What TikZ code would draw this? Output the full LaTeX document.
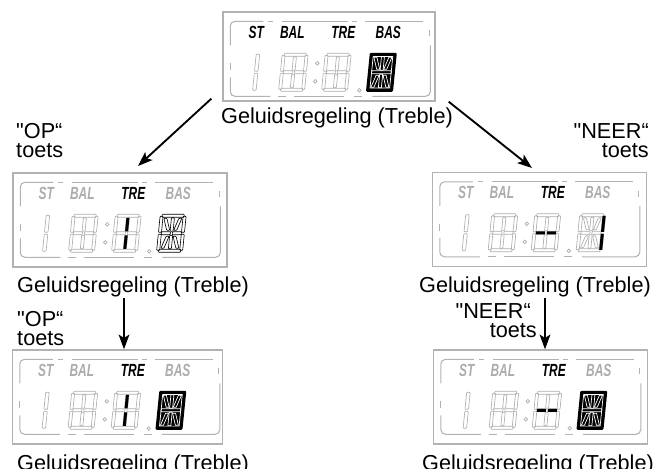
\documentclass[tikz,border=0pt]{standalone}
\usepackage{fontspec}
\usepackage{graphicx}
\setmainfont{Liberation Sans}[Ligatures=TeXOff]
\usetikzlibrary{arrows.meta}

\newcommand\capfont{\fontsize{18.5}{16}\selectfont}
\newcommand\lblfont{\fontsize{15}{15}\selectfont\bfseries\itshape}
\newcommand\lcdtxt[1]{\scalebox{0.68}[1]{#1}}

\tikzset{
  segline/.style={draw=gray!65, line width=0.55pt, rounded corners=0.6pt},
  lcdframe/.style={draw=gray!60, line width=0.9pt, rounded corners=4pt},
  lcdlbl/.style={font=\lblfont, inner sep=0pt, text=black},
  pics/one/.style={code={
    \draw[segline] (0,1) rectangle (3.5,18);
    \draw[segline] (0,20) rectangle (3.5,37);
  }},
  pics/cell/.style={code={
    \foreach \a/\b/\c/\d in {2/0/24/3, 2/35/24/38, 3/17.5/12/20.5, 14/17.5/23/20.5,
        0/2/3/18, 0/20/3/36, 23/2/26/18, 23/20/26/36, 11.5/3.5/14.5/17, 11.5/21/14.5/34.5}
      \draw[segline] (\a,\b) rectangle (\c,\d);
    \foreach \a/\b/\c/\d in {#1}
      \fill[black] (\a,\b) rectangle (\c,\d);
  }},
  pics/dcell/.style n args={2}{code={
    \foreach \a/\b/\c/\d in {2/0/24/3, 2/35/24/38, 3/17.5/12/20.5, 14/17.5/23/20.5,
        0/2/3/18, 0/20/3/36, 23/2/26/18, 23/20/26/36, 11.5/3.5/14.5/17, 11.5/21/14.5/34.5}
      \draw[segline, draw=#1] (\a,\b) rectangle (\c,\d);
    \foreach \a/\b/\c/\d/\e/\f/\g/\h in {4/4/7/4/11/16/8/16, 22/4/19/4/15/16/18/16,
        4/34/7/34/11/22/8/22, 22/34/19/34/15/22/18/22}
      \draw[segline, draw=#1] (\a,\b) -- (\c,\d) -- (\e,\f) -- (\g,\h) -- cycle;
    \foreach \a/\b/\c/\d in {#2}
      \fill[black] (\a,\b) rectangle (\c,\d);
  }},
  pics/dcellon/.style={code={
    \fill[black, rounded corners=1pt] (-0.5,-0.5) rectangle (26.5,38.5);
    \draw[white, line width=0.6pt] (3.2,3.2) rectangle (22.8,34.8);
    \draw[white, line width=0.6pt] (3.2,17.5) rectangle (22.8,20.5);
    \foreach \a/\b/\c/\d in {11.5/3.5/14.5/17, 11.5/21/14.5/34.5}
      \draw[white, line width=0.6pt] (\a,\b) rectangle (\c,\d);
    \foreach \a/\b/\c/\d/\e/\f/\g/\h in {4/4/7/4/11/16/8/16, 22/4/19/4/15/16/18/16,
        4/34/7/34/11/22/8/22, 22/34/19/34/15/22/18/22}
      \draw[white, line width=0.6pt] (\a,\b) -- (\c,\d) -- (\e,\f) -- (\g,\h) -- cycle;
  }},
}

% #1 panel node, #2 colour of the unlit labels, #3 lit segments of TRE digit, #4 last digit
\newcommand\lcdpanel[4]{%
  \begin{scope}[shift={(#1.north west)}]
    \draw[lcdframe] (8,34) -- (8,10) -- (41,10);
    \draw[lcdframe] (46,10) -- (51,10) (60,10) -- (126,10) (130,10) -- (135,10) (143,10) -- (201,10);
    \draw[lcdframe] (208,34) -- (208,85) -- (150,85);
    \draw[lcdframe] (140,85) -- (132,85) (122,85) -- (72,85) (64,85) -- (56,85);
    \draw[lcdframe] (48,85) -- (8,85) -- (8,66);
    \draw[lcdframe] (8,52) -- (8,59) (207,19) -- (207,25);
    \node[lcdlbl, text=#2] (#1st) at (34,21) {\lcdtxt{ST}};
    \node[lcdlbl, text=#2] (#1bal) at (70,21) {\lcdtxt{BAL}};
    \node[lcdlbl] (#1tre) at (121,21) {\lcdtxt{TRE}};
    \node[lcdlbl, text=#2] (#1bas) at (166,21) {\lcdtxt{BAS}};
    \pic[xslant=0.1] at (34,42) {one};
    \pic[xslant=0.1] at (60,42) {cell={0/0/0/0}};
    \pic[xslant=0.1] at (103,42) {cell={#3}};
    \pic[xslant=0.1] at (148,42) {#4};
    \draw[segline] (95,52) circle (1.8) (93,70) circle (1.8) (137,79) circle (1.8);
  \end{scope}}

\begin{document}
\begin{tikzpicture}[x=0.03cm, y=-0.03cm,
  lcd/.style={rectangle, draw=gray!60, line width=1.2pt, minimum width=6.42cm, minimum height=2.82cm, inner sep=0pt},
  captxt/.style={font=\capfont, anchor=base, inner sep=0pt},
  key/.style={font=\capfont, inner sep=0pt},
  arrow/.style={-{Stealth[length=4.4mm, width=3.2mm, inset=1mm]}, line width=1.6pt},
]
\useasboundingbox (0,0) rectangle (669,468);

% === displays ===
\node[lcd, minimum height=2.67cm, minimum width=6.36cm] (top) at (329,56.5) {};
\node[lcd] (upL) at (120,220) {};
\node[lcd] (upR) at (539.5,219.5) {};
\node[lcd, minimum width=6.3cm] (dnL) at (117.5,397) {};
\node[lcd] (dnR) at (540.5,397) {};

\lcdpanel{top}{black}{0/0/0/0}{dcellon}
\lcdpanel{upL}{gray!65}{11.5/3.5/14.5/17, 11.5/21/14.5/34.5}{dcell={black}{0/0/0/0}}
\lcdpanel{upR}{gray!65}{3/17.5/12/20.5, 14/17.5/23/20.5}{dcell={gray!65}{23/2/26/18, 23/20/26/36}}
\lcdpanel{dnL}{gray!65}{11.5/3.5/14.5/17, 11.5/21/14.5/34.5}{dcellon}
\lcdpanel{dnR}{gray!65}{3/17.5/12/20.5, 14/17.5/23/20.5}{dcellon}

% === captions ===
\node[captxt] (topcap) at (337,123) {Geluidsregeling (Treble)};
\node[captxt] (upLcap) at (133,292) {Geluidsregeling (Treble)};
\node[captxt] (upRcap) at (535,292) {Geluidsregeling (Treble)};
\node[captxt] (dnLcap) at (133,470) {Geluidsregeling (Treble)};
\node[captxt] (dnRcap) at (538,470) {Geluidsregeling (Treble)};

% === keys ===
\node[key, anchor=base west] (opA) at (16,138) {"OP“};
\node[key, anchor=base west] (opAt) at (16,157) {toets};
\node[key, anchor=base east] (neerA) at (649,138) {"NEER“};
\node[key, anchor=base east] (neerAt) at (649,157) {toets};
\node[key, anchor=base west] (opB) at (17,326) {"OP“};
\node[key, anchor=base west] (opBt) at (17,345) {toets};
\node[key, anchor=base east] (neerB) at (531,318) {"NEER“};
\node[key, anchor=base east] (neerBt) at (537,337) {toets};

% === arrows ===
\coordinate (tipL) at (138,166);
\coordinate (tipR) at (532,168);
\coordinate (vL) at (124,298);
\coordinate (vR) at (545,298);
\draw[arrow] ([shift={(-11,-3)}]top.south west) -- (tipL);
\draw[arrow] ([shift={(13,0)}]top.south east) -- (tipR);
\draw[arrow] (vL) -- (vL |- dnL.north);
\draw[arrow] (vR) -- (vR |- dnR.north);

\end{tikzpicture}
\end{document}
